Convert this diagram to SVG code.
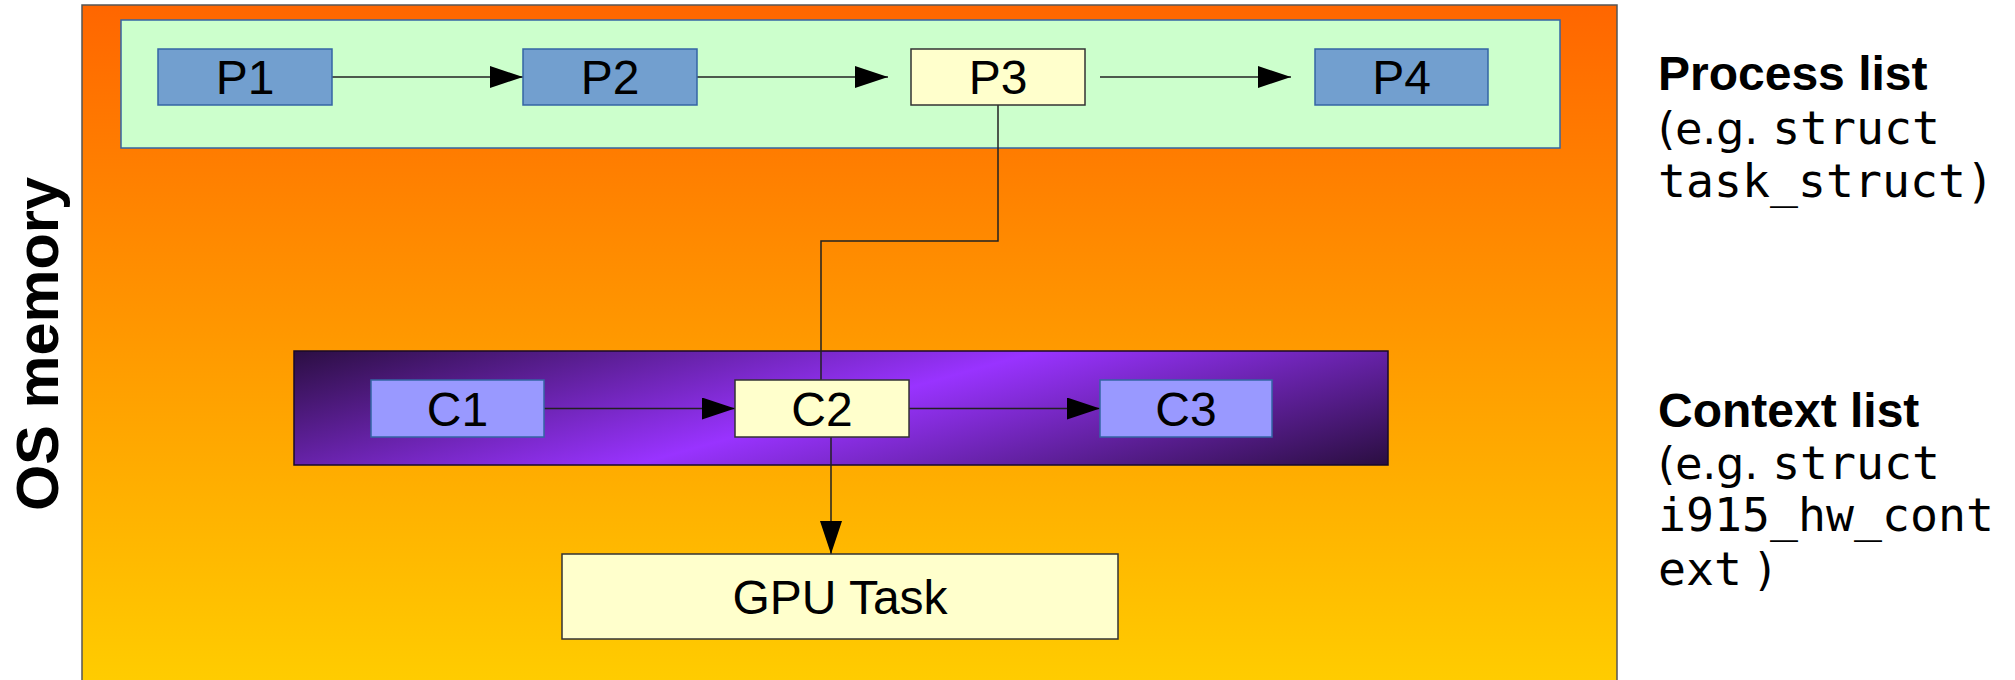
<svg xmlns="http://www.w3.org/2000/svg" width="2015" height="680" viewBox="0 0 2015 680">
<style>
.lbl{font-family:"Liberation Sans",Arial,sans-serif;font-size:48px;fill:#000;text-anchor:middle}
.bold{font-family:"Liberation Sans",Arial,sans-serif;font-weight:bold;fill:#000}
.prop{font-family:"DejaVu Sans",sans-serif;font-size:44px;fill:#000}
.mono{font-family:"DejaVu Sans Mono",monospace;font-size:46.5px;fill:#000}
.pbox{fill:#729fcf;stroke:#3465a4;stroke-width:1.5}
.cbox{fill:#9999ff;stroke:#3465a4;stroke-width:1.5}
.ybox{fill:#ffffcc;stroke:#333;stroke-width:1.5}
.conn{fill:none;stroke:#222;stroke-width:1.5}
</style>
<defs>
<linearGradient id="orange" x1="0" y1="5" x2="0" y2="680" gradientUnits="userSpaceOnUse">
<stop offset="0" stop-color="#ff6600"/>
<stop offset="1" stop-color="#ffcc00"/>
</linearGradient>
<linearGradient id="purple" x1="764" y1="216" x2="875" y2="610" gradientUnits="userSpaceOnUse">
<stop offset="0" stop-color="#2a0e40"/>
<stop offset="0.5" stop-color="#9933ff"/>
<stop offset="1" stop-color="#2a0e40"/>
</linearGradient>
<marker id="arr" markerWidth="33" markerHeight="22" refX="33" refY="11" orient="auto" markerUnits="userSpaceOnUse">
<path d="M0,0 L33,11 L0,22 Z" fill="#000"/>
</marker>
</defs>
<g id="os-memory">
<rect x="82" y="5" width="1535" height="680" fill="url(#orange)" stroke="#555" stroke-width="1.5"/>
<text class="bold" font-size="59.5" text-anchor="middle" transform="translate(58,344) rotate(-90)">OS memory</text>
</g>
<g id="process-list">
<rect x="121" y="20" width="1439" height="128" fill="#ccffcc" stroke="#3465a4" stroke-width="1.5"/>
</g>
<g id="context-list">
<rect x="294" y="351" width="1094" height="114" fill="url(#purple)" stroke="#1a0a28" stroke-width="1.5"/>
</g>
<g id="connectors">
<line class="conn" x1="332" y1="77" x2="523" y2="77" marker-end="url(#arr)"/>
<line class="conn" x1="697" y1="77" x2="888" y2="77" marker-end="url(#arr)"/>
<line class="conn" x1="1100" y1="77" x2="1291" y2="77" marker-end="url(#arr)"/>
<polyline class="conn" points="998,105 998,241 821,241 821,380"/>
<line class="conn" x1="544" y1="408.5" x2="735" y2="408.5" marker-end="url(#arr)"/>
<line class="conn" x1="909" y1="408.5" x2="1100" y2="408.5" marker-end="url(#arr)"/>
<line class="conn" x1="831" y1="437" x2="831" y2="554" marker-end="url(#arr)"/>
</g>
<g id="P1"><rect class="pbox" x="158" y="49" width="174" height="56"/><text class="lbl" x="245" y="94">P1</text></g>
<g id="P2"><rect class="pbox" x="523" y="49" width="174" height="56"/><text class="lbl" x="610" y="94">P2</text></g>
<g id="P3"><rect class="ybox" x="911" y="49" width="174" height="56"/><text class="lbl" x="998" y="94">P3</text></g>
<g id="P4"><rect class="pbox" x="1315" y="49" width="173" height="56"/><text class="lbl" x="1401.5" y="94">P4</text></g>
<g id="C1"><rect class="cbox" x="371" y="380" width="173" height="57"/><text class="lbl" x="457.5" y="425.5">C1</text></g>
<g id="C2"><rect class="ybox" x="735" y="380" width="174" height="57"/><text class="lbl" x="822" y="425.5">C2</text></g>
<g id="C3"><rect class="cbox" x="1100" y="380" width="172" height="57"/><text class="lbl" x="1186" y="425.5">C3</text></g>
<g id="GPU-Task"><rect class="ybox" x="562" y="554" width="556" height="85"/><text class="lbl" x="840" y="613.5">GPU Task</text></g>
<g id="process-label">
<text class="bold" font-size="48" x="1658" y="90">Process list</text>
<text x="1658" y="144"><tspan class="prop">(e.g. </tspan><tspan class="mono">struct</tspan></text>
<text x="1658" y="197"><tspan class="mono">task_struct)</tspan></text>
</g>
<g id="context-label">
<text class="bold" font-size="48" x="1658" y="427">Context list</text>
<text x="1658" y="479"><tspan class="prop">(e.g. </tspan><tspan class="mono">struct</tspan></text>
<text x="1658" y="531"><tspan class="mono">i915_hw_cont</tspan></text>
<text x="1658" y="585"><tspan class="mono">ext</tspan><tspan class="prop"> )</tspan></text>
</g>
</svg>
